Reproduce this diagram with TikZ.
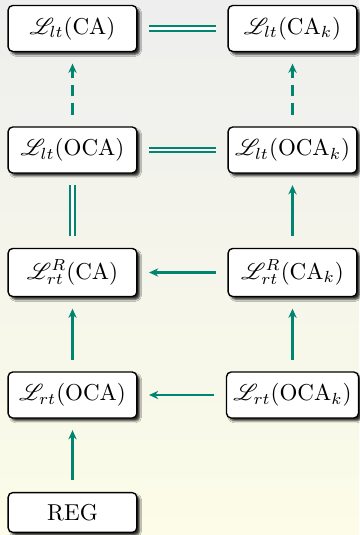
\documentclass[tikz,border=0pt]{standalone}
\usepackage{mathrsfs}
\usetikzlibrary{shadows,shadows.blur,arrows.meta}
\definecolor{linkteal}{RGB}{0,133,112}
\definecolor{bgtop}{RGB}{238,238,238}
\definecolor{bgbottom}{RGB}{252,252,232}
\tikzset{
  langbox/.style={draw=black, line width=0.6pt, fill=white, rounded corners=2pt,
    minimum width=56pt, inner xsep=3pt, inner ysep=5pt,
    blur shadow={shadow xshift=1.3pt, shadow yshift=-1.3pt, shadow opacity=80,
      shadow blur steps=4, shadow blur radius=0.8pt}},
  incl/.style={draw=linkteal, line width=1pt, -{Stealth[length=4pt,width=3.6pt]},
    shorten <=5pt, shorten >=5pt},
  weakincl/.style={incl, dash pattern=on 5pt off 3pt},
  equal/.style={draw=linkteal, double=white, double distance=1pt, line width=0.9pt,
    shorten <=5pt, shorten >=5pt}
}
\begin{document}
\begin{tikzpicture}[x=0.435pt, y=-0.435pt]
  % backdrop
  \shade[top color=bgtop, bottom color=bgbottom] (0,0) rectangle (359,535);
  \useasboundingbox (0,0) rectangle (359,535);

  % left column
  \node[langbox] (ltca)   at (72.5,28.5)  {$\mathscr{L}_{lt}(\mathrm{CA})$};
  \node[langbox] (ltoca)  at (72.5,150)   {$\mathscr{L}_{lt}(\mathrm{OCA})$};
  \node[langbox] (rtrca)  at (72.5,272.5) {$\mathscr{L}^{R}_{rt}(\mathrm{CA})$};
  \node[langbox] (rtoca)  at (72.5,395)   {$\mathscr{L}_{rt}(\mathrm{OCA})$};
  \node[langbox] (reg)    at (72.5,512.5) {REG};

  % right column
  \node[langbox] (ltcak)  at (292.5,28.5)  {$\mathscr{L}_{lt}(\mathrm{CA}_k)$};
  \node[langbox] (ltocak) at (292.5,150)   {$\mathscr{L}_{lt}(\mathrm{OCA}_k)$};
  \node[langbox] (rtrcak) at (292.5,272.5) {$\mathscr{L}^{R}_{rt}(\mathrm{CA}_k)$};
  \node[langbox] (rtocak) at (292.5,395)   {$\mathscr{L}_{rt}(\mathrm{OCA}_k)$};

  % equalities
  \draw[equal] (ltca) -- (ltcak);
  \draw[equal] (ltoca) -- (ltocak);
  \draw[equal] (ltoca) -- (rtrca);

  % inclusions
  \draw[weakincl] (ltoca) -- (ltca);
  \draw[weakincl] (ltocak) -- (ltcak);
  \draw[incl] (rtrcak) -- (ltocak);
  \draw[incl] (rtrcak) -- (rtrca);
  \draw[incl] (rtoca) -- (rtrca);
  \draw[incl] (rtocak) -- (rtrcak);
  \draw[incl] (rtocak) -- (rtoca);
  \draw[incl] (reg) -- (rtoca);
\end{tikzpicture}
\end{document}
